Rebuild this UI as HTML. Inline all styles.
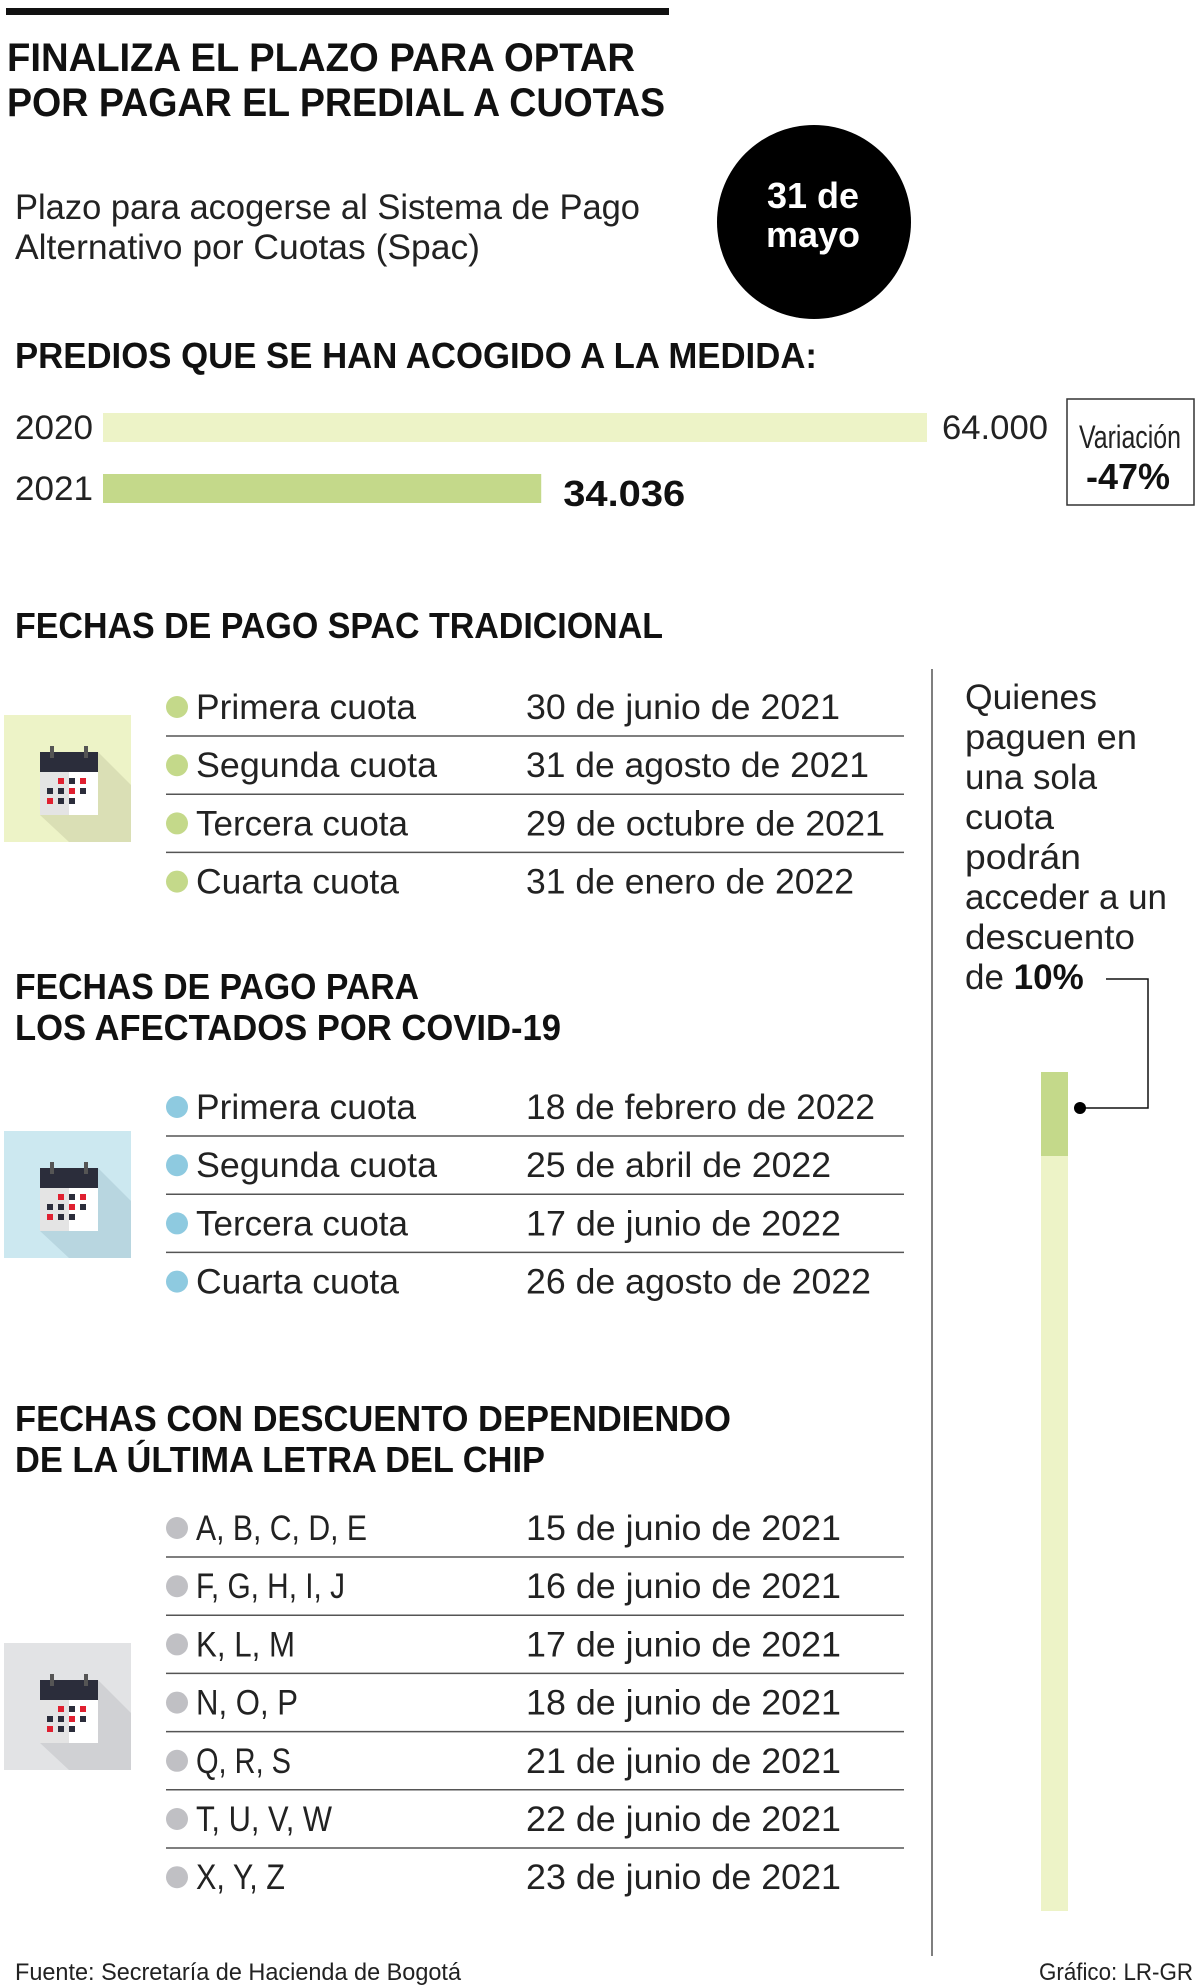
<!DOCTYPE html>
<html><head><meta charset="utf-8"><style>
body{margin:0;background:#fff}
svg{display:block}
text{font-family:"Liberation Sans",sans-serif}
.t{font-weight:bold;fill:#111}
.b{fill:#222}
</style></head><body>
<svg id="s" width="1200" height="1985" viewBox="0 0 1200 1985" xmlns="http://www.w3.org/2000/svg">
<rect x="6" y="8" width="663" height="7" fill="#111"/>
<text class="t" font-size="40" x="7" y="71" textLength="628" lengthAdjust="spacingAndGlyphs">FINALIZA EL PLAZO PARA OPTAR</text>
<text class="t" font-size="40" x="7" y="116" textLength="658" lengthAdjust="spacingAndGlyphs">POR PAGAR EL PREDIAL A CUOTAS</text>
<text class="b" font-size="35" x="15" y="219" textLength="625" lengthAdjust="spacingAndGlyphs">Plazo para acogerse al Sistema de Pago</text>
<text class="b" font-size="35" x="15" y="259" textLength="465" lengthAdjust="spacingAndGlyphs">Alternativo por Cuotas (Spac)</text>
<circle cx="814" cy="222" r="97" fill="#000"/>
<text font-weight="bold" fill="#fff" font-size="36" x="813" y="208" text-anchor="middle">31 de</text>
<text font-weight="bold" fill="#fff" font-size="36" x="813" y="247" text-anchor="middle">mayo</text>
<text class="t" font-size="36" x="15" y="368" textLength="802" lengthAdjust="spacingAndGlyphs">PREDIOS QUE SE HAN ACOGIDO A LA MEDIDA:</text>
<g id="bars"></g>
<rect x="1067" y="399" width="127" height="106" fill="#fff" stroke="#333" stroke-width="1.5"/>
<text class="b" font-size="32" x="1130" y="448" text-anchor="middle" textLength="102" lengthAdjust="spacingAndGlyphs">Variación</text>
<text class="t" font-size="36" x="1128" y="489" text-anchor="middle">-47%</text>
<text class="t" font-size="36" x="15" y="638" textLength="648" lengthAdjust="spacingAndGlyphs">FECHAS DE PAGO SPAC TRADICIONAL</text>
<text class="t" font-size="36" x="15" y="999" textLength="404" lengthAdjust="spacingAndGlyphs">FECHAS DE PAGO PARA</text>
<text class="t" font-size="36" x="15" y="1040" textLength="546" lengthAdjust="spacingAndGlyphs">LOS AFECTADOS POR COVID-19</text>
<text class="t" font-size="36" x="15" y="1431" textLength="716" lengthAdjust="spacingAndGlyphs">FECHAS CON DESCUENTO DEPENDIENDO</text>
<text class="t" font-size="36" x="15" y="1472" textLength="530" lengthAdjust="spacingAndGlyphs">DE LA ÚLTIMA LETRA DEL CHIP</text>
<line x1="932" y1="669" x2="932" y2="1956" stroke="#555" stroke-width="1.5"/>
<g class="b" font-size="35">
<text x="965" y="709" textLength="132" lengthAdjust="spacingAndGlyphs">Quienes</text>
<text x="965" y="749" textLength="172" lengthAdjust="spacingAndGlyphs">paguen en</text>
<text x="965" y="789" textLength="132" lengthAdjust="spacingAndGlyphs">una sola</text>
<text x="965" y="829" textLength="89" lengthAdjust="spacingAndGlyphs">cuota</text>
<text x="965" y="869" textLength="116" lengthAdjust="spacingAndGlyphs">podrán</text>
<text x="965" y="909" textLength="202" lengthAdjust="spacingAndGlyphs">acceder a un</text>
<text x="965" y="949" textLength="170" lengthAdjust="spacingAndGlyphs">descuento</text>
<text x="965" y="989">de <tspan font-weight="bold" fill="#111">10%</tspan></text>
</g>
<rect x="1041" y="1072" width="27" height="839" fill="#edf3c7"/>
<rect x="1041" y="1072" width="27" height="84" fill="#c4d98a"/>
<polyline points="1106,979 1148,979 1148,1108 1080,1108" fill="none" stroke="#111" stroke-width="1.5"/>
<circle cx="1080" cy="1108" r="6" fill="#000"/>
<g id="tables"></g>
<text class="b" font-size="24" x="15" y="1980" textLength="446" lengthAdjust="spacingAndGlyphs">Fuente: Secretaría de Hacienda de Bogotá</text>
<text class="b" font-size="24" x="1193" y="1980" text-anchor="end" textLength="154" lengthAdjust="spacingAndGlyphs">Gráfico: LR-GR</text>
</svg>
<script>
const years=["2020","2021"];
const values=[64000,34036];
const valueLabels=["64.000","34.036"];
const NS="http://www.w3.org/2000/svg";
function mk(tag,attrs,parent,txt){const e=document.createElementNS(NS,tag);for(const k in attrs)e.setAttribute(k,attrs[k]);if(txt!==undefined)e.textContent=txt;parent.appendChild(e);return e;}
const bars=document.getElementById('bars');
const x0=103,xMax=64000,wMax=824;
function xs(v){return v/xMax*wMax;}
function ys(i){return 413+i*61;}
years.forEach((y,i)=>{
  const r=mk('rect',{x:x0,y:ys(i),width:xs(values[i]),height:29,fill:i==0?'#edf3c7':'#c4d98a'},bars);
  
  
  const l=mk('text',{x:15,y:ys(i)+26,'font-size':34,fill:'#222',textLength:78,lengthAdjust:'spacingAndGlyphs'},bars,y);
  
  
  const v=mk('text',{x:x0+xs(values[i])+(i==0?15:22),y:ys(i)+(i==0?26:32),'font-size':i==0?34:36,'font-weight':i==0?'normal':'bold',fill:i==0?'#222':'#111',textLength:i==0?106:122,lengthAdjust:'spacingAndGlyphs'},bars,valueLabels[i]);
  
  
});
const tables=document.getElementById('tables');
function icon(y,bg,sh){
  const g=mk('g',{transform:'translate(4,'+y+')'},tables);
  
  
  mk('rect',{x:0,y:0,width:127,height:127,fill:bg},g);
  mk('polygon',{points:'94,37 127,70 127,127 65,127 36,100 94,100',fill:sh},g);
  mk('rect',{x:36,y:57,width:58,height:43,fill:'#fff'},g);
  mk('rect',{x:36,y:57,width:29,height:43,fill:'#e4e4e4'},g);
  mk('rect',{x:36,y:37,width:58,height:20,fill:'#2b2d3b'},g);
  mk('rect',{x:46,y:31,width:4,height:12,fill:'#555'},g);
  mk('rect',{x:80,y:31,width:4,height:12,fill:'#555'},g);
  const cells=[[56,65,'#e02030'],[67,65,'#2b2d3b'],[78,65,'#e02030'],[45,75,'#2b2d3b'],[56,75,'#2b2d3b'],[67,75,'#e02030'],[78,75,'#2b2d3b'],[45,85,'#e02030'],[56,85,'#2b2d3b'],[67,85,'#2b2d3b']];
  cells.forEach(c=>mk('rect',{x:c[0]-2,y:c[1]-2,width:6,height:6,fill:c[2]},g));
}
function table(name,rows,y0,dot,iconY,bg,sh){
  icon(iconY,bg,sh);
  rows.forEach((r,i)=>{
    const cy=y0+i*58.2;
    const g=mk('g',{},tables);
    
    
    mk('circle',{cx:177,cy:cy,r:11,fill:dot},g);
    mk('text',{x:196,y:cy+12,'font-size':35,fill:'#222',textLength:r[2],lengthAdjust:'spacingAndGlyphs'},g,r[0]);
    mk('text',{x:526,y:cy+12,'font-size':35,fill:'#222',textLength:r[3],lengthAdjust:'spacingAndGlyphs'},g,r[1]);
    if(i<rows.length-1)mk('line',{x1:166,x2:904,y1:cy+29,y2:cy+29,stroke:'#555','stroke-width':1.5},g);
  });
}
table('spac',[["Primera cuota","30 de junio de 2021",220,314],["Segunda cuota","31 de agosto de 2021",241,343],["Tercera cuota","29 de octubre de 2021",212,359],["Cuarta cuota","31 de enero de 2022",203,328]],707,'#c4d98a',715,'#edf3c7','#dadfb5');
table('covid',[["Primera cuota","18 de febrero de 2022",220,349],["Segunda cuota","25 de abril de 2022",241,305],["Tercera cuota","17 de junio de 2022",212,315],["Cuarta cuota","26 de agosto de 2022",203,345]],1107,'#8ecae0',1131,'#cce8f0','#b8d6e0');
table('chip',[["A, B, C, D, E","15 de junio de 2021",171,315],["F, G, H, I, J","16 de junio de 2021",149,315],["K, L, M","17 de junio de 2021",99,315],["N, O, P","18 de junio de 2021",102,315],["Q, R, S","21 de junio de 2021",95,315],["T, U, V, W","22 de junio de 2021",136,315],["X, Y, Z","23 de junio de 2021",89,315]],1528,'#c0c0c4',1643,'#e2e3e5','#d0d1d4');
</script>
</body></html>
